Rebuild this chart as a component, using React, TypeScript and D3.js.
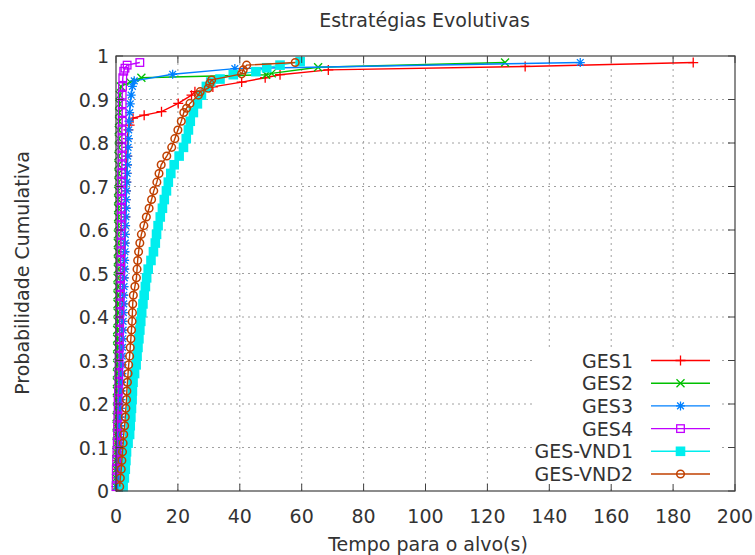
import React from "react";
import * as d3 from "d3";

// séries (nome, cor, tipo de marcador)
const seriesNames = ["GES1", "GES2", "GES3", "GES4", "GES-VND1", "GES-VND2"];
const seriesColors = ["#ff0000", "#00c000", "#0080ff", "#c000ff", "#00eeee", "#c04000"];
const markerKinds = ["plus", "cross", "star", "square", "filledSquare", "circle"];

const xTicks = [0, 20, 40, 60, 80, 100, 120, 140, 160, 180, 200];
const yTicks = [0, 0.1, 0.2, 0.3, 0.4, 0.5, 0.6, 0.7, 0.8, 0.9, 1];
const yTickLabels = ["0", "0.1", "0.2", "0.3", "0.4", "0.5", "0.6", "0.7", "0.8", "0.9", "1"];

// [tempo (s), probabilidade cumulativa]
const ges1: [number, number][] = [
  [0.2, 0.01], [0.3, 0.03], [0.4, 0.05], [0.5, 0.07], [0.6, 0.09], [0.7, 0.11], [0.8, 0.13],
  [0.9, 0.15], [1.0, 0.17], [1.1, 0.19], [1.2, 0.21], [1.3, 0.23], [1.3, 0.25], [1.4, 0.27],
  [1.5, 0.29], [1.6, 0.31], [1.7, 0.33], [1.8, 0.35], [1.9, 0.37], [2.0, 0.39], [2.0, 0.41],
  [2.1, 0.43], [2.2, 0.45], [2.3, 0.47], [2.4, 0.49], [2.4, 0.51], [2.5, 0.53], [2.6, 0.55],
  [2.7, 0.57], [2.8, 0.59], [2.9, 0.61], [3.0, 0.63], [3.0, 0.65], [3.1, 0.67], [3.2, 0.69],
  [3.3, 0.71], [3.4, 0.73], [3.5, 0.75], [3.6, 0.77], [3.7, 0.79], [3.8, 0.81], [4.0, 0.83],
  [4.4, 0.841], [5.5, 0.857], [9.1, 0.864], [14.7, 0.872], [20.1, 0.891], [24.4, 0.91],
  [25.5, 0.918], [31.3, 0.929], [40.6, 0.94], [48.2, 0.95], [53.0, 0.957], [68.6, 0.968],
  [132.2, 0.976], [186.5, 0.985],
];

const ges2: [number, number][] = [
  [0.0, 0.01], [0.0, 0.03], [0.1, 0.05], [0.1, 0.07], [0.1, 0.09], [0.2, 0.11], [0.2, 0.13],
  [0.2, 0.15], [0.2, 0.17], [0.3, 0.19], [0.3, 0.21], [0.3, 0.23], [0.3, 0.25], [0.3, 0.27],
  [0.4, 0.29], [0.4, 0.31], [0.4, 0.33], [0.4, 0.35], [0.4, 0.37], [0.5, 0.39], [0.5, 0.41],
  [0.5, 0.43], [0.5, 0.45], [0.5, 0.47], [0.5, 0.49], [0.6, 0.51], [0.6, 0.53], [0.6, 0.55],
  [0.6, 0.57], [0.6, 0.59], [0.7, 0.61], [0.7, 0.63], [0.7, 0.65], [0.7, 0.67], [0.7, 0.69],
  [0.8, 0.71], [0.8, 0.73], [0.8, 0.75], [0.8, 0.77], [0.9, 0.79], [0.9, 0.81], [0.9, 0.83],
  [1.0, 0.85], [1.0, 0.87], [1.1, 0.89], [1.2, 0.91], [1.6, 0.93], [4.6, 0.94], [8.2, 0.95],
  [48.5, 0.957], [50.3, 0.96], [65.3, 0.974], [125.7, 0.985],
];

const ges3: [number, number][] = [
  [0.5, 0.01], [0.7, 0.03], [0.8, 0.05], [0.9, 0.07], [1.0, 0.09], [1.1, 0.11], [1.2, 0.13],
  [1.3, 0.15], [1.4, 0.17], [1.5, 0.19], [1.6, 0.21], [1.7, 0.23], [1.8, 0.25], [1.9, 0.27],
  [2.0, 0.29], [2.0, 0.31], [2.1, 0.33], [2.2, 0.35], [2.3, 0.37], [2.3, 0.39], [2.4, 0.41],
  [2.5, 0.43], [2.5, 0.45], [2.6, 0.47], [2.7, 0.49], [2.8, 0.51], [2.8, 0.53], [2.9, 0.55],
  [3.0, 0.57], [3.0, 0.59], [3.1, 0.61], [3.2, 0.63], [3.3, 0.65], [3.3, 0.67], [3.4, 0.69],
  [3.5, 0.71], [3.6, 0.73], [3.7, 0.75], [3.8, 0.77], [3.9, 0.79], [4.0, 0.81], [4.1, 0.83],
  [4.2, 0.85], [4.4, 0.87], [4.6, 0.89], [4.9, 0.91], [5.3, 0.93], [5.9, 0.943],
  [18.3, 0.958], [38.4, 0.971], [150.0, 0.985],
];

const ges4: [number, number][] = [
  [0.0, 0.01], [0.1, 0.03], [0.1, 0.05], [0.2, 0.07], [0.3, 0.09], [0.4, 0.11], [0.5, 0.13],
  [0.5, 0.15], [0.6, 0.17], [0.7, 0.19], [0.7, 0.21], [0.8, 0.23], [0.9, 0.25], [0.9, 0.27],
  [1.0, 0.29], [1.0, 0.31], [1.1, 0.33], [1.1, 0.35], [1.2, 0.37], [1.2, 0.39], [1.3, 0.41],
  [1.3, 0.43], [1.4, 0.45], [1.4, 0.47], [1.5, 0.49], [1.5, 0.51], [1.5, 0.53], [1.6, 0.55],
  [1.6, 0.57], [1.6, 0.59], [1.7, 0.61], [1.7, 0.63], [1.7, 0.65], [1.8, 0.67], [1.8, 0.69],
  [1.8, 0.71], [1.8, 0.73], [1.9, 0.75], [1.9, 0.77], [1.9, 0.79], [1.9, 0.81], [1.9, 0.83],
  [2.0, 0.85], [2.0, 0.87], [2.0, 0.89], [2.0, 0.91], [2.1, 0.93], [2.2, 0.95], [2.5, 0.965],
  [2.9, 0.972], [3.6, 0.979], [7.7, 0.985],
];

const gesVnd1: [number, number][] = [
  [2.3, 0.01], [2.7, 0.03], [3.0, 0.05], [3.2, 0.07], [3.4, 0.09], [3.9, 0.11], [4.4, 0.13],
  [4.6, 0.15], [4.8, 0.17], [5.0, 0.19], [5.2, 0.21], [5.3, 0.23], [5.5, 0.25], [6.0, 0.27],
  [6.5, 0.29], [6.8, 0.31], [7.1, 0.33], [7.4, 0.35], [7.7, 0.37], [8.0, 0.39], [8.3, 0.41],
  [8.7, 0.43], [9.1, 0.45], [9.5, 0.47], [9.9, 0.49], [10.4, 0.51], [11.3, 0.53], [12.1, 0.55],
  [12.7, 0.57], [13.1, 0.59], [13.6, 0.61], [14.3, 0.63], [15.0, 0.65], [15.6, 0.67],
  [16.3, 0.69], [16.9, 0.71], [17.7, 0.73], [18.8, 0.75], [20.4, 0.77], [21.8, 0.79],
  [22.7, 0.81], [23.4, 0.83], [24.0, 0.85], [25.0, 0.87], [26.3, 0.89], [27.6, 0.91],
  [29.2, 0.93], [30.6, 0.94], [33.6, 0.947], [37.9, 0.957], [45.2, 0.964], [48.7, 0.973],
  [53.0, 0.979], [59.5, 0.987],
];

const gesVnd2: [number, number][] = [
  [1.2, 0.01], [1.4, 0.03], [1.7, 0.05], [1.9, 0.07], [2.1, 0.09], [2.3, 0.11], [2.5, 0.13],
  [2.8, 0.15], [3.0, 0.17], [3.2, 0.19], [3.4, 0.21], [3.5, 0.23], [3.7, 0.25], [3.9, 0.27],
  [4.1, 0.29], [4.4, 0.31], [4.6, 0.33], [4.8, 0.35], [5.0, 0.37], [5.2, 0.39], [5.3, 0.41],
  [5.4, 0.43], [5.6, 0.45], [6.1, 0.47], [6.6, 0.49], [6.8, 0.51], [7.0, 0.53], [7.3, 0.55],
  [7.7, 0.57], [8.2, 0.59], [9.0, 0.61], [9.8, 0.63], [10.7, 0.65], [11.5, 0.67], [12.2, 0.69],
  [13.2, 0.71], [13.9, 0.73], [14.6, 0.75], [16.4, 0.77], [18.0, 0.79], [19.0, 0.81],
  [20.0, 0.83], [21.1, 0.85], [21.9, 0.87], [22.8, 0.88], [23.9, 0.891], [26.6, 0.91],
  [27.2, 0.918], [29.8, 0.926], [30.3, 0.937], [30.9, 0.945], [40.6, 0.959], [41.1, 0.968],
  [42.2, 0.979], [57.9, 0.985],
];

const allSeries = [ges1, ges2, ges3, ges4, gesVnd1, gesVnd2];

const W = 755;
const H = 555;
const left = 116, right = 735, top = 56, bottom = 491;
const FONT = "'DejaVu Sans', sans-serif";
const FS = 19;
const TEXT = "#333333";

function Marker({ kind, x, y, color }: { kind: string; x: number; y: number; color: string }) {
  const sw = 1.3;
  if (kind === "plus") {
    const s = 5;
    return <path d={`M${x - s},${y}H${x + s}M${x},${y - s}V${y + s}`} stroke={color} strokeWidth={sw} fill="none" />;
  }
  if (kind === "cross") {
    const s = 4;
    return <path d={`M${x - s},${y - s}L${x + s},${y + s}M${x - s},${y + s}L${x + s},${y - s}`} stroke={color} strokeWidth={sw} fill="none" />;
  }
  if (kind === "star") {
    const s = 4.5;
    const k = s * 0.75;
    const d = `M${x - s},${y}H${x + s}M${x},${y - s}V${y + s}M${x - k},${y - k}L${x + k},${y + k}M${x - k},${y + k}L${x + k},${y - k}`;
    return <path d={d} stroke={color} strokeWidth={sw} fill="none" />;
  }
  if (kind === "square") {
    const s = 3.8;
    return <rect x={x - s} y={y - s} width={2 * s} height={2 * s} stroke={color} strokeWidth={sw} fill="none" />;
  }
  if (kind === "filledSquare") {
    const s = 4.8;
    return <rect x={x - s} y={y - s} width={2 * s} height={2 * s} fill={color} />;
  }
  return <circle cx={x} cy={y} r={3.8} stroke={color} strokeWidth={sw + 0.2} fill="none" />;
}

export default function App() {
  const x = d3.scaleLinear().domain([0, 200]).range([left, right]);
  const y = d3.scaleLinear().domain([0, 1]).range([bottom, top]);
  const line = d3
    .line<[number, number]>()
    .x((d) => x(d[0]))
    .y((d) => y(d[1]));

  const tick = 7;
  const legendRight = 633;
  const legendY0 = 360.5;
  const legendStep = 22.7;

  return (
    <svg width={W} height={H} style={{ position: "absolute", left: 0, top: 0, background: "#fff" }}>
      {/* grade */}
      <g stroke="#a0a0a0" strokeWidth={1} strokeDasharray="2,4">
        {xTicks.slice(1, -1).map((t) => (
          <line key={"gx" + t} x1={x(t)} x2={x(t)} y1={bottom} y2={top} />
        ))}
        {yTicks.slice(1, -1).map((t) => (
          <line key={"gy" + t} x1={left} x2={right} y1={y(t)} y2={y(t)} />
        ))}
      </g>

      {/* séries */}
      {allSeries.map((data, i) => (
        <g key={seriesNames[i]}>
          <path d={line(data) || ""} fill="none" stroke={seriesColors[i]} strokeWidth={1.4} />
          {data.map((d, j) => (
            <Marker key={j} kind={markerKinds[i]} x={x(d[0])} y={y(d[1])} color={seriesColors[i]} />
          ))}
        </g>
      ))}

      {/* legenda */}
      <rect x={532} y={347} width={186} height={140} fill="#fff" />
      {seriesNames.map((name, i) => {
        const ly = legendY0 + i * legendStep;
        return (
          <g key={"leg" + name}>
            <text x={legendRight} y={ly} textAnchor="end" dominantBaseline="central" fontFamily={FONT} fontSize={FS} fill={TEXT}>
              {name}
            </text>
            <line x1={651} x2={710} y1={ly} y2={ly} stroke={seriesColors[i]} strokeWidth={1.4} />
            <Marker kind={markerKinds[i]} x={680.5} y={ly} color={seriesColors[i]} />
          </g>
        );
      })}

      {/* borda e marcas */}
      <rect x={left} y={top} width={right - left} height={bottom - top} fill="none" stroke="#404040" strokeWidth={1.2} />
      {xTicks.map((t) => (
        <g key={"tx" + t} stroke="#404040" strokeWidth={1}>
          <line x1={x(t)} x2={x(t)} y1={bottom} y2={bottom - tick} />
          <line x1={x(t)} x2={x(t)} y1={top} y2={top + tick} />
        </g>
      ))}
      {yTicks.map((t) => (
        <g key={"ty" + t} stroke="#404040" strokeWidth={1}>
          <line x1={left} x2={left + tick} y1={y(t)} y2={y(t)} />
          <line x1={right} x2={right - tick} y1={y(t)} y2={y(t)} />
        </g>
      ))}

      {/* rótulos dos eixos */}
      {xTicks.map((t) => (
        <text key={"lx" + t} x={x(t)} y={516} textAnchor="middle" dominantBaseline="central" fontFamily={FONT} fontSize={FS} fill={TEXT}>
          {t}
        </text>
      ))}
      {yTicks.map((t, i) => (
        <text key={"ly" + t} x={109} y={y(t)} textAnchor="end" dominantBaseline="central" fontFamily={FONT} fontSize={FS} fill={TEXT}>
          {yTickLabels[i]}
        </text>
      ))}

      <text x={424.5} y={20} textAnchor="middle" dominantBaseline="central" fontFamily={FONT} fontSize={FS} fill={TEXT}>
        Estratégias Evolutivas
      </text>
      <text x={428} y={544} textAnchor="middle" dominantBaseline="central" fontFamily={FONT} fontSize={FS} fill={TEXT}>
        Tempo para o alvo(s)
      </text>
      <text
        transform={`translate(22,273) rotate(-90)`}
        textAnchor="middle"
        dominantBaseline="central"
        fontFamily={FONT}
        fontSize={FS}
        fill={TEXT}
      >
        Probabilidade Cumulativa
      </text>
    </svg>
  );
}
